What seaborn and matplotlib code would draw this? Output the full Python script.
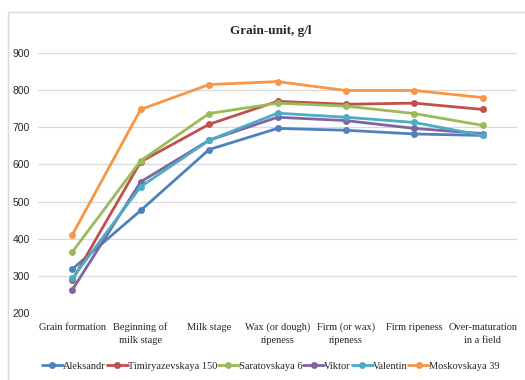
import pandas as pd
import matplotlib.pyplot as plt
import seaborn as sns
from matplotlib.patches import Rectangle

# data
stages = ['Grain formation', 'Beginning of\nmilk stage', 'Milk stage', 'Wax (or dough)\nripeness',
          'Firm (or wax)\nripeness', 'Firm ripeness', 'Over-maturation\nin a field']
varieties = ['Aleksandr', 'Timiryazevskaya 150', 'Saratovskaya 6', 'Viktor', 'Valentin', 'Moskovskaya 39']
aleksandr = [318, 476, 640, 697, 692, 682, 678]
timiryazevskaya = [288, 607, 708, 770, 762, 765, 748]
saratovskaya = [364, 610, 737, 765, 757, 737, 705]
viktor = [262, 553, 665, 727, 718, 697, 683]
valentin = [293, 540, 665, 738, 727, 713, 678]
moskovskaya = [410, 748, 815, 823, 799, 799, 780]
colors = ['#4F81BD', '#C0504D', '#9BBB59', '#8064A2', '#4BACC6', '#F79646']

series = [aleksandr, timiryazevskaya, saratovskaya, viktor, valentin, moskovskaya]
rows = []
for name, vals in zip(varieties, series):
    for i, v in enumerate(vals):
        rows.append({'stage': i, 'variety': name, 'value': v})
df = pd.DataFrame(rows)

sns.set_style('white')
plt.rcParams['font.family'] = ['Liberation Serif', 'DejaVu Serif']

fig = plt.figure(figsize=(5.25, 3.8), dpi=100)
fig.patches.append(Rectangle((8 / 525, -0.1), 1.2, 1 - 12 / 380 + 0.1, transform=fig.transFigure,
                             fill=False, edgecolor='#D9D9D9', linewidth=1.0))
ax = fig.add_axes([38 / 525, 1 - 313 / 380, 479 / 525, 260 / 380])

sns.lineplot(data=df, x='stage', y='value', hue='variety', hue_order=varieties, palette=colors,
             marker='o', markersize=5, markeredgewidth=0, linewidth=2.0, ax=ax, legend=True)

ax.set_xlim(-0.5, 6.5)
ax.set_ylim(200, 900)
ax.set_yticks(range(200, 901, 100))
ax.set_xticks(range(len(stages)))
ax.set_xticklabels(stages, fontsize=7.5, linespacing=1.55)
for lab in ax.get_yticklabels():
    lab.set_family('Liberation Sans')
    lab.set_fontsize(7.5)
ax.tick_params(axis='x', length=0, pad=7)
ax.tick_params(axis='y', length=0, pad=6)
ax.grid(axis='y', color='#D9D9D9', linewidth=0.9)
ax.set_axisbelow(True)
for s in ax.spines.values():
    s.set_visible(False)
ax.set_xlabel('')
ax.set_ylabel('')

fig.text(0.515, 1 - 31 / 380, 'Grain-unit, g/l', ha='center', va='center', fontsize=9.5, fontweight='bold')

handles, labels = ax.get_legend_handles_labels()
ax.get_legend().remove()
fig.legend(handles, labels, loc='center', bbox_to_anchor=(271 / 525, 1 - 366 / 380), ncol=6, frameon=False,
           fontsize=7.5, handlelength=2.0, handletextpad=0.0, columnspacing=0.1, borderaxespad=0)

fig.savefig('out.png', dpi=100)
